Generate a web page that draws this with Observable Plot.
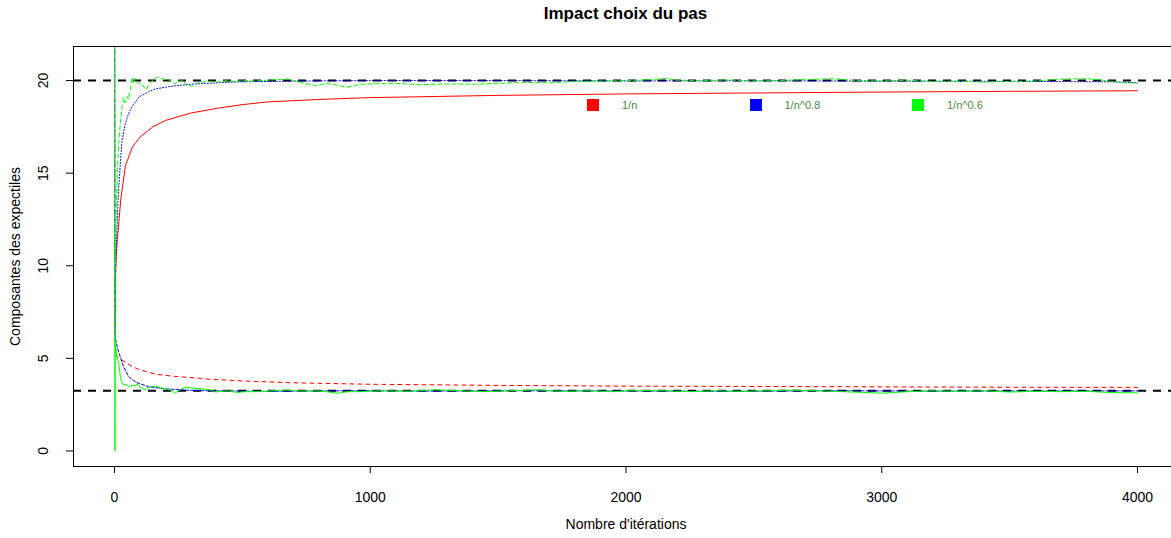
<!DOCTYPE html>
<html><head><meta charset="utf-8">
<script src="https://cdn.jsdelivr.net/npm/d3@7"></script>
<script src="https://cdn.jsdelivr.net/npm/@observablehq/plot@0.6"></script>
<style>
html,body{margin:0;padding:0;background:#fff;width:1171px;height:538px;overflow:hidden;}
#wrap{position:relative;width:1171px;height:538px;overflow:hidden;font-family:Arial,"Liberation Sans",sans-serif;}
#title{position:absolute;left:73px;top:0;width:1105px;height:30px;line-height:27px;text-align:center;font-weight:bold;font-size:17px;color:#000;}
#chart{position:absolute;left:0;top:30px;width:1180px;}
#chart svg{max-width:none !important;width:1180px;height:508px;}
#legend{position:absolute;left:587px;top:99px;display:flex;font-size:11px;color:#4a8a3a;}
.item{width:162.5px;height:12px;display:flex;align-items:center;}
.sw{width:12px;height:12px;margin-right:23px;}
</style>
</head><body>
<div id="wrap">
  <div id="title">Impact choix du pas</div>
  <div id="chart"></div>
  <div id="legend"></div>
</div>
<script>
// ---- data ----
const titleText = "Impact choix du pas";
const xLabel = "Nombre d'itérations";
const yLabel = "Composantes des expectiles";
const xTicks = [0, 1000, 2000, 3000, 4000];
const yTicks = [0, 5, 10, 15, 20];
const refLevels = [20, 3.25];
const seriesNames = ["1/n", "1/n^0.8", "1/n^0.6"];
const seriesColors = ["#ff0000", "#0000ff", "#00ff00"];

// 1/n (red)
const redUpIter = [1, 2, 4, 7, 12, 17, 25, 43, 70, 100, 150, 200, 300, 400, 500, 600, 800, 1000, 1500, 2000, 2500, 3000, 3500, 4000];
const redUpVal  = [6.3, 8.0, 9.5, 10.5, 11.5, 12.3, 13.6, 15.4, 16.4, 16.95, 17.5, 17.85, 18.25, 18.5, 18.7, 18.85, 18.98, 19.08, 19.2, 19.28, 19.33, 19.38, 19.42, 19.45];
const redLowIter = [1, 2, 3, 6, 10, 20, 43, 70, 100, 160, 225, 300, 375, 500, 700, 1000, 1500, 2000, 2500, 3000, 3500, 4000];
const redLowVal  = [22.5, 6.3, 5.8, 5.4, 5.1, 4.95, 4.8, 4.55, 4.38, 4.15, 4.04, 3.96, 3.87, 3.78, 3.68, 3.6, 3.54, 3.5, 3.48, 3.46, 3.44, 3.43];

// 1/n^0.8 (blue)
const blueUpIter = [1, 3, 6, 10, 15, 23, 30, 43, 55, 69, 95, 134, 160, 225, 300, 356, 485, 700, 1000, 1500, 2000, 2500, 3000, 3500, 3900, 4000];
const blueUpVal  = [6.3, 8.5, 10.5, 12.0, 13.8, 15.5, 16.8, 17.7, 18.2, 18.6, 19.1, 19.4, 19.55, 19.7, 19.8, 19.85, 19.93, 19.97, 20.0, 20.0, 19.98, 19.99, 19.97, 19.96, 19.93, 19.88];
const blueLowIter = [1, 2, 5, 10, 15, 23, 36, 56, 75, 95, 134, 180, 225, 300, 356, 450, 600, 800, 1000, 1200, 1600, 2000, 2400, 2800, 3200, 3600, 4000];
const blueLowVal  = [22.5, 6.3, 6.0, 5.7, 5.4, 5.08, 4.54, 4.0, 3.8, 3.65, 3.47, 3.38, 3.33, 3.27, 3.25, 3.24, 3.22, 3.24, 3.25, 3.23, 3.25, 3.24, 3.22, 3.25, 3.23, 3.24, 3.24];

// 1/n^0.6 (green)
const greenUpIter = [1, 2, 4, 8, 12, 17, 23, 30, 36, 42, 50, 56, 62, 69, 75, 82, 88, 95, 108, 115, 125, 134, 145, 154, 160, 173, 186, 199, 206, 225, 238, 251, 271, 278, 297, 304, 318, 336, 356, 375, 400, 440, 470, 505, 540, 570, 600, 622, 650, 675, 700, 727, 760, 792, 831, 870, 910, 962, 1000, 1100, 1200, 1300, 1400, 1500, 1600, 1700, 1800, 1900, 2000, 2100, 2150, 2200, 2300, 2400, 2500, 2600, 2700, 2800, 2850, 2900, 3000, 3100, 3200, 3300, 3400, 3500, 3600, 3700, 3800, 3850, 3900, 3950, 4000];
const greenUpVal  = [6.0, 8.0, 11.0, 13.5, 15.2, 16.6, 17.7, 18.6, 19.05, 18.8, 19.14, 19.0, 19.5, 20.18, 19.85, 20.12, 19.9, 19.85, 19.82, 19.65, 19.5, 19.76, 19.95, 20.09, 20.12, 20.2, 20.1, 20.04, 20.09, 19.95, 19.82, 20.04, 20.0, 19.77, 19.73, 19.68, 19.85, 19.9, 19.95, 19.96, 19.92, 20.0, 19.95, 20.0, 19.97, 20.0, 20.02, 20.04, 20.06, 20.09, 20.0, 19.9, 19.8, 19.73, 19.85, 19.75, 19.64, 19.8, 19.82, 19.85, 19.78, 19.82, 19.8, 19.85, 19.9, 19.88, 19.95, 19.97, 20.0, 20.05, 20.12, 20.02, 20.0, 20.03, 19.98, 20.0, 20.05, 20.1, 20.06, 20.0, 19.98, 20.02, 19.95, 19.97, 19.92, 19.95, 19.98, 20.08, 20.1, 20.05, 19.95, 19.88, 19.87];
const greenLowIter = [1, 2, 3, 5, 8, 12, 17, 23, 30, 36, 45, 56, 70, 82, 89, 100, 108, 121, 128, 147, 167, 190, 219, 238, 255, 278, 300, 323, 356, 375, 395, 440, 485, 505, 570, 620, 675, 727, 780, 830, 870, 910, 962, 1050, 1150, 1250, 1350, 1450, 1550, 1650, 1750, 1850, 1950, 2050, 2150, 2250, 2350, 2450, 2550, 2650, 2750, 2850, 2950, 3000, 3100, 3200, 3300, 3400, 3500, 3600, 3700, 3800, 3900, 4000];
const greenLowVal  = [22.5, 0, 6.0, 5.6, 5.2, 5.0, 4.73, 4.0, 3.7, 3.56, 3.6, 3.47, 3.55, 3.5, 3.65, 3.45, 3.38, 3.29, 3.38, 3.5, 3.47, 3.38, 3.29, 3.12, 3.3, 3.45, 3.4, 3.38, 3.33, 3.29, 3.18, 3.25, 3.15, 3.2, 3.2, 3.25, 3.29, 3.23, 3.25, 3.2, 3.11, 3.2, 3.2, 3.25, 3.22, 3.3, 3.25, 3.2, 3.25, 3.3, 3.22, 3.25, 3.2, 3.27, 3.25, 3.2, 3.25, 3.22, 3.25, 3.28, 3.25, 3.2, 3.15, 3.12, 3.2, 3.25, 3.22, 3.25, 3.18, 3.22, 3.2, 3.22, 3.15, 3.14];

// ---- build ----
const toRows = (it, v) => it.map((x, i) => ({x, y: v[i]}));
const lines = [
  {rows: toRows(redUpIter, redUpVal), color: seriesColors[0], dash: null},
  {rows: toRows(redLowIter, redLowVal), color: seriesColors[0], dash: "4,4"},
  {rows: toRows(blueUpIter, blueUpVal), color: seriesColors[1], dash: "1,2"},
  {rows: toRows(blueLowIter, blueLowVal), color: seriesColors[1], dash: "3,2"},
  {rows: toRows(greenUpIter, greenUpVal), color: seriesColors[2], dash: "4,3"},
  {rows: toRows(greenLowIter, greenLowVal), color: seriesColors[2], dash: null}
];

const font = "Arial, 'Liberation Sans', sans-serif";
const chart = Plot.plot({
  width: 1180,
  height: 508,
  marginTop: 16,
  marginBottom: 72,
  marginLeft: 73,
  marginRight: 2,
  x: {domain: [-160, 4160]},
  y: {domain: [-0.84, 21.84]},
  style: {fontFamily: font, fontSize: "14px", color: "#000", background: "#fff", overflow: "visible", maxWidth: "none"},
  marks: [
    Plot.ruleY(refLevels, {stroke: "#000", strokeWidth: 2, strokeDasharray: "8,7"}),
    ...lines.map(l => Plot.line(l.rows, {x: "x", y: "y", stroke: l.color, strokeWidth: 1, strokeDasharray: l.dash, clip: true})),
    Plot.frame({stroke: "#000", strokeWidth: 1}),
    Plot.axisX({ticks: xTicks, tickSize: 7, tickFormat: () => "", label: null, stroke: "#000"}),
    Plot.axisY({ticks: yTicks, tickSize: 7, tickFormat: () => "", label: null, stroke: "#000"}),
    Plot.text(xTicks, {x: d => d, frameAnchor: "bottom", dy: 35, text: d => String(d), fill: "#000", fontSize: 14, textAnchor: "middle"}),
    Plot.text(yTicks, {y: d => d, frameAnchor: "left", dx: -30, rotate: -90, text: d => String(d), fill: "#000", fontSize: 14, textAnchor: "middle"}),
    Plot.text([xLabel], {frameAnchor: "bottom", dy: 62, text: d => d, fill: "#000", fontSize: 14, textAnchor: "middle"}),
    Plot.text([yLabel], {frameAnchor: "left", dx: -58, rotate: -90, text: d => d, fill: "#000", fontSize: 14, textAnchor: "middle"})
  ]
});
document.getElementById("chart").appendChild(chart);
document.getElementById("title").textContent = titleText;

const leg = d3.select("#legend");
seriesNames.forEach((n, i) => {
  const it = leg.append("div").attr("class", "item");
  it.append("div").attr("class", "sw").style("background", seriesColors[i]);
  it.append("span").text(n);
});
</script>
</body></html>
